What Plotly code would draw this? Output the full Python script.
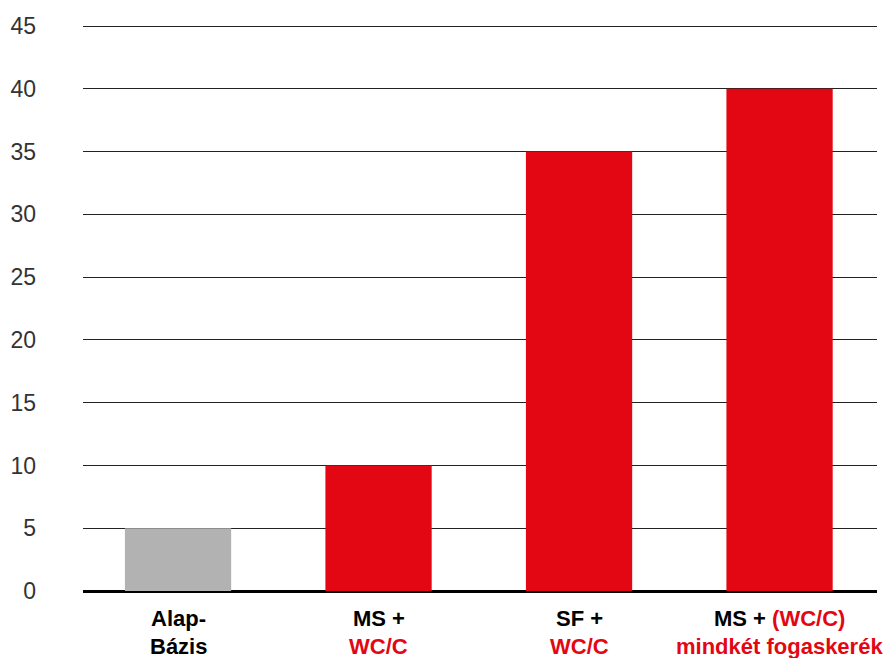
import plotly.graph_objects as go

RED = "#E30613"
GRAY = "#B2B2B2"

categories = ["Alap-Bázis", "MS + WC/C", "SF + WC/C", "MS + (WC/C) mindkét fogaskerék"]
values = [5, 10, 35, 40]
bar_colors = [GRAY, RED, RED, RED]
label_line1 = ["Alap-", "MS +", "SF +", "MS + <span style='color:%s'>(WC/C)</span>" % RED]
label_line2 = ["Bázis", "<span style='color:%s'>WC/C</span>" % RED,
               "<span style='color:%s'>WC/C</span>" % RED,
               "<span style='color:%s'>mindkét fogaskerék</span>" % RED]
y_ticks = [0, 5, 10, 15, 20, 25, 30, 35, 40, 45]

fig = go.Figure()
fig.add_trace(go.Bar(x=categories, y=values, marker=dict(color=bar_colors, line=dict(width=0)),
                     width=0.53, hoverinfo="skip"))

label_font = dict(family="Liberation Sans", size=22, color="#000", weight="bold")
for cat, l1, l2 in zip(categories, label_line1, label_line2):
    fig.add_annotation(x=cat, xref="x", y=0, yref="paper", yanchor="middle", yshift=-27,
                       text=l1, showarrow=False, font=label_font)
    fig.add_annotation(x=cat, xref="x", y=0, yref="paper", yanchor="middle", yshift=-55,
                       text=l2, showarrow=False, font=label_font)

fig.update_layout(
    width=888, height=658,
    margin=dict(l=83, r=11, t=21, b=67),
    plot_bgcolor="white", paper_bgcolor="white",
    showlegend=False,
    xaxis=dict(showticklabels=False, showgrid=False, zeroline=False, showline=False,
               ticks="", fixedrange=True, automargin=False, range=[-0.474, 3.486]),
    yaxis=dict(range=[0, 45.4], tickvals=y_ticks, showgrid=True, gridcolor="#222", gridwidth=1,
               zeroline=True, zerolinecolor="#000", zerolinewidth=2.5, automargin=False,
               showline=False, ticks="", ticklabelstandoff=46, fixedrange=True,
               tickfont=dict(family="Liberation Sans", size=23, color="#333")),
)

fig.write_html("out.html", config={"displayModeBar": False},
               post_script="document.body.style.margin='0';document.body.style.overflow='hidden';")
